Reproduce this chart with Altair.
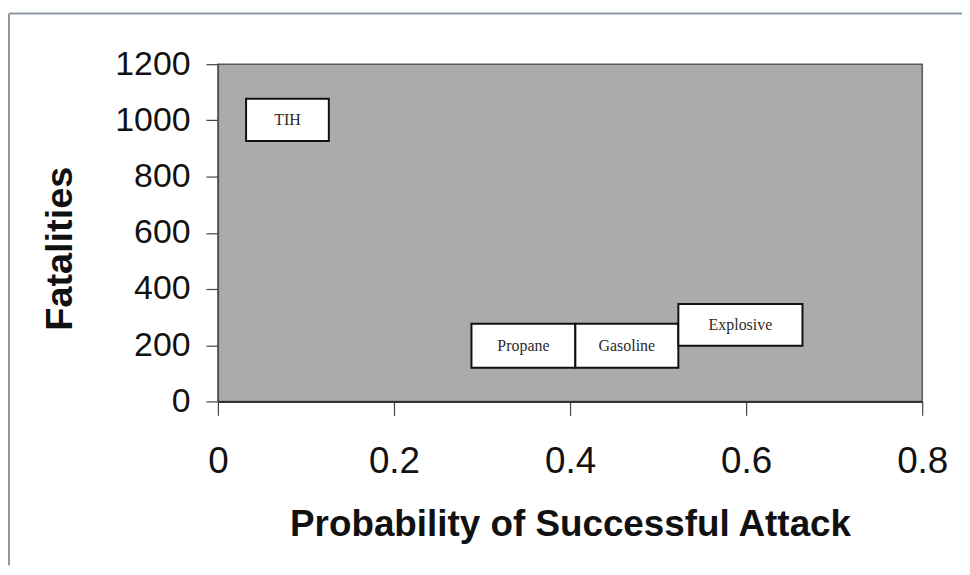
import altair as alt
import pandas as pd

# Data
labels = ["TIH", "Propane", "Gasoline", "Explosive"]
x_lo = [0.032, 0.288, 0.406, 0.523]
x_hi = [0.126, 0.406, 0.523, 0.664]
y_lo = [927, 120, 120, 198]
y_hi = [1077, 276, 276, 347]

x_ticks = [0, 0.2, 0.4, 0.6, 0.8]
y_ticks = [0, 200, 400, 600, 800, 1000, 1200]

df = pd.DataFrame({"label": labels, "x_lo": x_lo, "x_hi": x_hi, "y_lo": y_lo, "y_hi": y_hi})

W, H = 708, 339

xscale = alt.Scale(domain=[0, 0.8], nice=False, zero=False)
yscale = alt.Scale(domain=[0, 1200], nice=False)

xaxis = alt.Axis(
    title="Probability of Successful Attack", values=x_ticks, format="~g",
    labelFont="Liberation Sans", labelFontSize=37, labelColor="#111", labelFlush=False,
    titleFont="Liberation Sans", titleFontSize=37, titleFontWeight="bold", titleColor="#111",
    titleX=W / 2, titleY=135, titleBaseline="alphabetic", titleAlign="center",
    tickSize=14, tickColor="#444", tickWidth=1.2, labelPadding=28,
    domainColor="#333", domainWidth=2, grid=False, zindex=1,
)
yaxis = alt.Axis(
    title="Fatalities", values=y_ticks, format="d",
    labelFont="Liberation Sans", labelFontSize=34, labelColor="#111", labelFlush=False,
    titleFont="Liberation Sans", titleFontSize=38, titleFontWeight="bold", titleColor="#111",
    titleAngle=270, titleX=-147, titleY=185, titleBaseline="alphabetic", titleAlign="center",
    tickSize=12, tickColor="#444", tickWidth=1.2, labelPadding=16,
    domainColor="#555", domainWidth=1.5, grid=False, zindex=1,
)

one = pd.DataFrame({"a": [0]})

# plot-area background
panel = alt.Chart(one).mark_rect(fill="#a9abac", stroke="#5a5a5a", strokeWidth=1.5).encode(
    x=alt.value(0), x2=alt.value(W), y=alt.value(0), y2=alt.value(H)
)

boxes = alt.Chart(df).mark_rect(fill="white", stroke="#111", strokeWidth=2).encode(
    x=alt.X("x_lo:Q", scale=xscale, axis=xaxis),
    x2="x_hi:Q",
    y=alt.Y("y_lo:Q", scale=yscale, axis=yaxis),
    y2="y_hi:Q",
)

texts = alt.Chart(df).transform_calculate(
    xm="(datum.x_lo + datum.x_hi) / 2", ym="(datum.y_lo + datum.y_hi) / 2"
).mark_text(font="Liberation Serif", fontSize=16, color="#2a2a2a", align="center", baseline="middle").encode(
    x=alt.X("xm:Q", scale=xscale),
    y=alt.Y("ym:Q", scale=yscale),
    text="label:N",
)

frame_top = alt.Chart(one).mark_rule(color="#8d9aa5", strokeWidth=2).encode(
    x=alt.value(-210), x2=alt.value(748), y=alt.value(-51)
)
frame_left = alt.Chart(one).mark_rule(color="#8d9aa5", strokeWidth=2).encode(
    x=alt.value(-210), y=alt.value(-51), y2=alt.value(504)
)

chart = alt.layer(panel, boxes, texts, frame_top, frame_left).properties(
    width=W, height=H,
    autosize=alt.AutoSizeParams(type="none"),
    padding={"left": 211, "top": 55, "right": 40, "bottom": 165},
).configure_view(
    stroke=None
).configure(background="white")

chart.save("out.html", embed_options={"renderer": "svg", "actions": False})
